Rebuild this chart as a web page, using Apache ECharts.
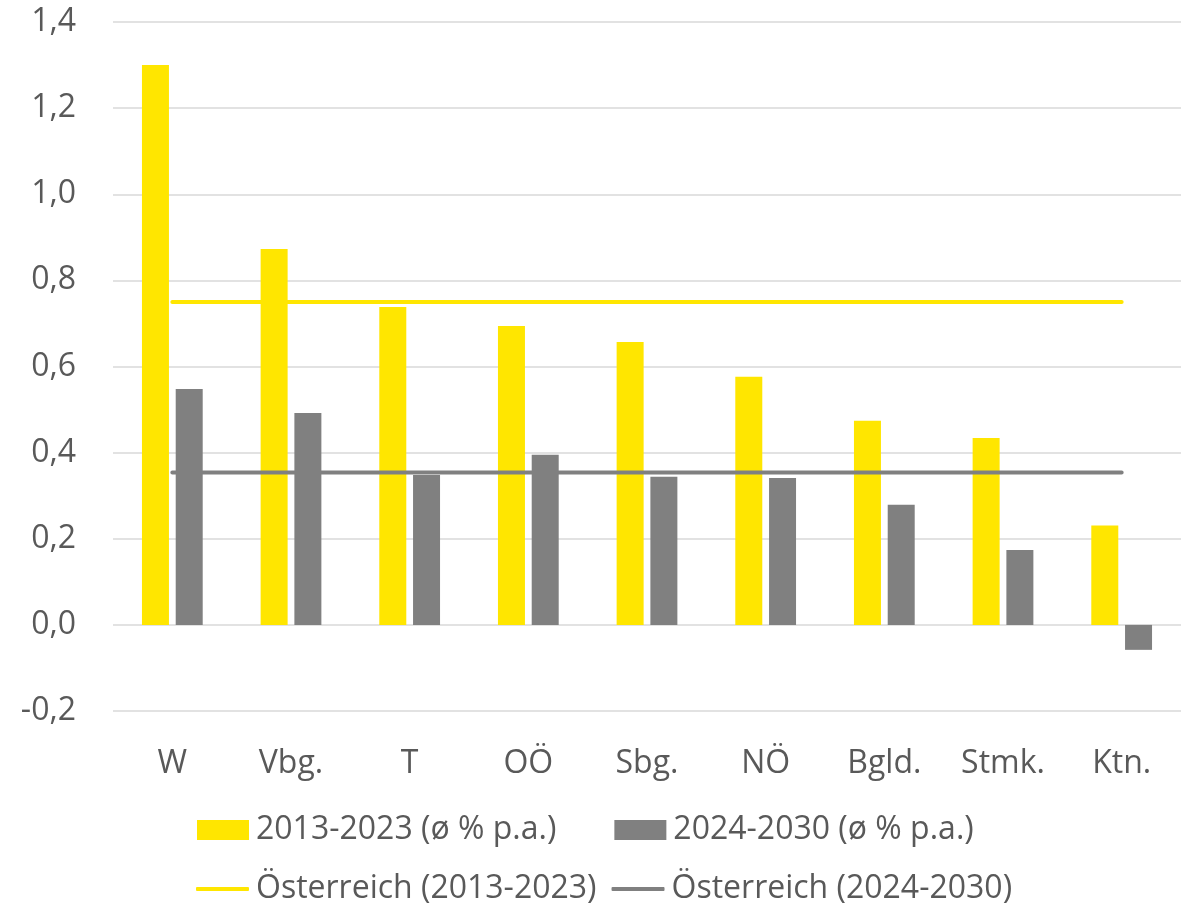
<!DOCTYPE html>
<html>
<head>
<meta charset="utf-8">
<script src="https://cdn.jsdelivr.net/npm/echarts@6/dist/echarts.min.js"></script>
<style>
  html, body { margin: 0; padding: 0; background: #ffffff; }
  #chart { width: 1197px; height: 909px; }
</style>
</head>
<body>
<div id="chart"></div>
<script>
// Bundesländer
const categories = ['W', 'Vbg.', 'T', 'OÖ', 'Sbg.', 'NÖ', 'Bgld.', 'Stmk.', 'Ktn.'];

// Average growth per year, %
const growth2013_2023 = [1.30, 0.873, 0.738, 0.694, 0.657, 0.576, 0.474, 0.434, 0.231];
const growth2024_2030 = [0.548, 0.492, 0.348, 0.395, 0.344, 0.341, 0.279, 0.174, -0.058];

// Austria-wide averages
const austria2013_2023 = 0.75;
const austria2024_2030 = 0.354;

const seriesNames = ['2013-2023 (ø % p.a.)', '2024-2030 (ø % p.a.)',
                     'Österreich (2013-2023)', 'Österreich (2024-2030)'];

const yMin = -0.2, yMax = 1.4, yStep = 0.2;

const YELLOW = '#FFE600';
const GREY = '#808080';
const TEXT = '#595959';
const FONT = '"Open Sans", sans-serif';
const FS = 32;

const chart = echarts.init(document.getElementById('chart'), null, { renderer: 'canvas' });

chart.setOption({
  animation: false,
  textStyle: { fontFamily: FONT, color: TEXT },
  grid: { left: 113, right: 16, top: 22, bottom: 198, containLabel: false },
  legend: [
    {
      data: [seriesNames[0], seriesNames[1]],
      left: 197, top: 814, padding: 0,
      itemWidth: 52, itemHeight: 20, itemGap: 58,
      icon: 'rect',
      textStyle: { fontFamily: FONT, fontSize: FS, color: TEXT, padding: [0, 0, 0, 2] }
    },
    {
      data: [seriesNames[2], seriesNames[3]],
      left: 196, top: 873, padding: 0,
      itemWidth: 53, itemHeight: 4, itemGap: 15,
      icon: 'roundRect',
      textStyle: { fontFamily: FONT, fontSize: FS, color: TEXT, padding: [0, 0, 0, 2] }
    }
  ],
  xAxis: {
    type: 'category',
    data: categories,
    boundaryGap: true,
    axisLine: { show: false },
    axisTick: { show: false },
    axisLabel: { fontFamily: FONT, fontSize: FS, color: TEXT, margin: 37 }
  },
  yAxis: {
    type: 'value',
    min: yMin, max: yMax, interval: yStep,
    axisLine: { show: false },
    axisTick: { show: false },
    splitLine: { lineStyle: { color: '#d9d9d9', width: 1.5 } },
    axisLabel: {
      fontFamily: FONT, fontSize: FS, color: TEXT, margin: 37,
      formatter: v => v.toFixed(1).replace('.', ',')
    }
  },
  series: [
    {
      name: seriesNames[0], type: 'bar', data: growth2013_2023,
      barWidth: 27, barGap: '25%',
      itemStyle: { color: YELLOW }
    },
    {
      name: seriesNames[1], type: 'bar', data: growth2024_2030,
      barWidth: 27, barGap: '25%',
      itemStyle: { color: GREY }
    },
    {
      name: seriesNames[2], type: 'line',
      data: categories.map(() => austria2013_2023),
      symbol: 'none', z: 5,
      lineStyle: { color: YELLOW, width: 4, cap: 'round' },
      itemStyle: { color: YELLOW }
    },
    {
      name: seriesNames[3], type: 'line',
      data: categories.map(() => austria2024_2030),
      symbol: 'none', z: 5,
      lineStyle: { color: GREY, width: 4, cap: 'round' },
      itemStyle: { color: GREY }
    }
  ]
});
</script>
</body>
</html>
